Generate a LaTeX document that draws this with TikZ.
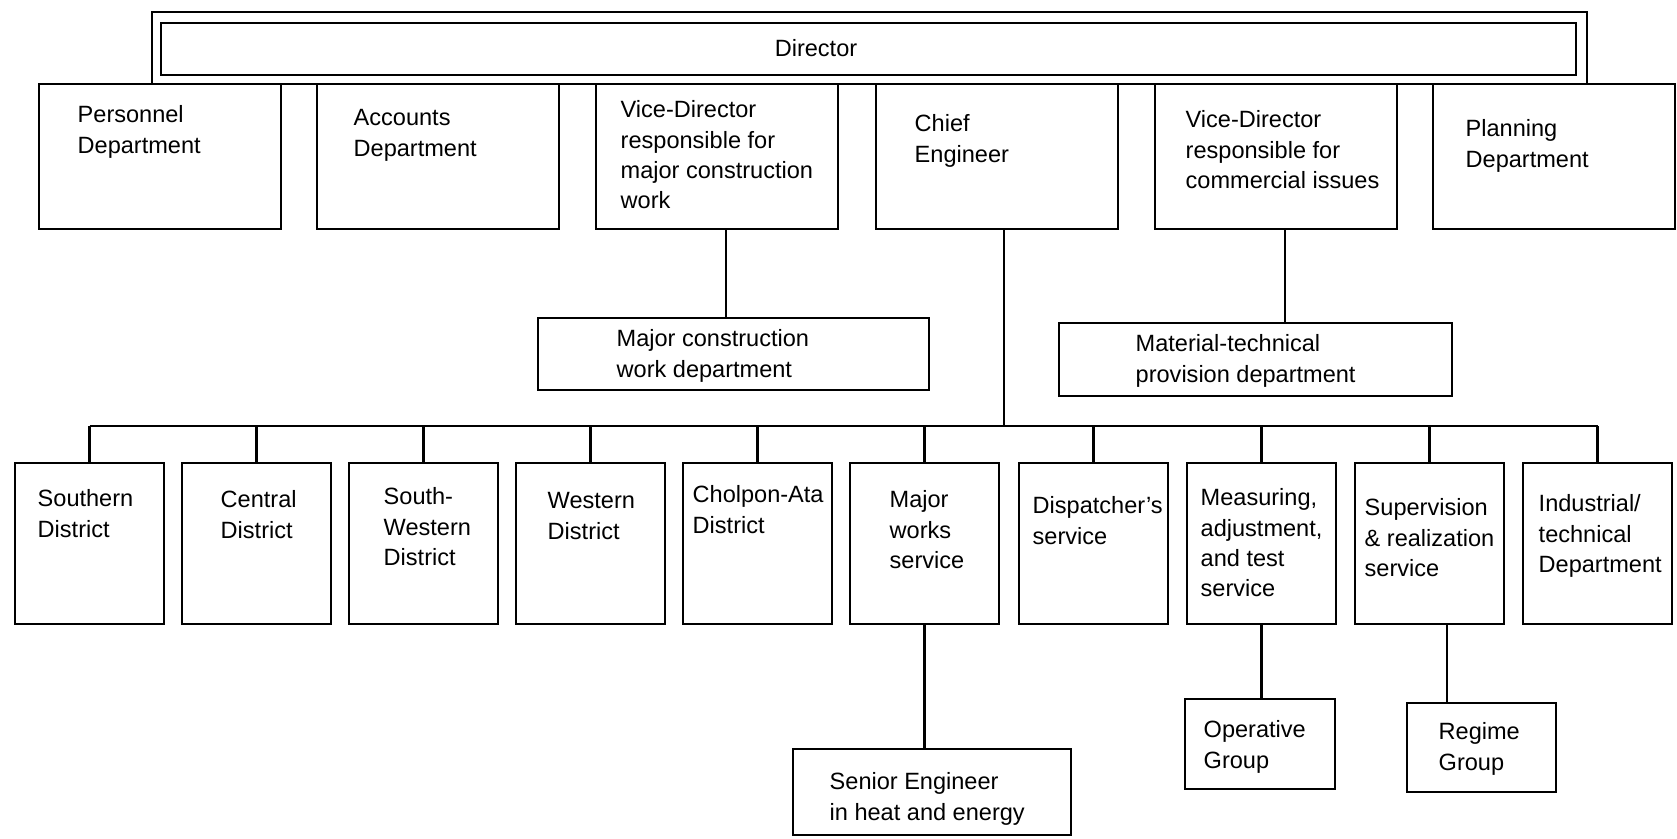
\documentclass[tikz,border=0pt]{standalone}
\usepackage{fontspec}
\setmainfont{Liberation Sans}
\usetikzlibrary{positioning}

\tikzset{
  box/.style 2 args={draw, line width=0.8pt, inner sep=0pt, minimum width=#1, minimum height=#2},
  lbl/.style={anchor=north west, align=left, inner sep=0pt, font=\fontsize{6.7}{8.6}\selectfont},
  link/.style={line width=0.6pt}
}

\begin{document}
\begin{tikzpicture}[x=0.1mm, y=-0.1mm]
  \useasboundingbox (0,0) rectangle (1677,838);

  % ── Director (double frame) ──
  \node[box={143.5mm}{7.2mm}] (dirframe) at (869.5,48) {};
  \node[box={141.5mm}{5.2mm}] (dir) at (868.5,49) {};
  \node[font=\fontsize{6.7}{8.6}\selectfont] (dirt) at (816,48) {Director};

  % ── Top row, hanging under the director frame ──
  \foreach \n/\x/\tx/\ty/\txt in
      {pd/160/77/105/{Personnel\\Department},
       ad/438/353/109/{Accounts\\Department},
       vda/717/620/100/{Vice-Director\\responsible for\\major construction\\work},
       ce/997/914/114/{Chief\\Engineer},
       vdb/1276/1185/110/{Vice-Director\\responsible for\\commercial issues},
       pl/1554/1465/119/{Planning\\Department}} {
    \node[box={24.2mm}{14.5mm}] (\n) at (\x,156.5) {};
    \node[lbl] (\n-t) at (\tx,\ty) {\txt};
  }

  % ── Departments under the vice-directors ──
  \node[box={39.1mm}{7.2mm}] (mcw) at (733.5,354) {};
  \node[lbl] (mcw-t) at (616,329) {Major construction\\work department};
  \node[box={39.3mm}{7.3mm}] (mtp) at (1255.5,359.5) {};
  \node[lbl] (mtp-t) at (1135,334) {Material-technical\\provision department};
  \draw[link] ([xshift=0.9mm]vda.south) -- ([xshift=0.9mm]vda.south |- mcw.north);
  \draw[link] ([xshift=0.9mm]vdb.south) -- ([xshift=0.9mm]vdb.south |- mtp.north);

  % ── Bus under the chief engineer ──
  \coordinate (bus) at (0,426);
  \draw[link] ([xshift=0.7mm]ce.south) -- ([xshift=0.7mm]ce.south |- bus);

  % ── Bottom row of districts and services ──
  \foreach \n/\x/\tx/\ty/\txt in
      {sd/89.5/37/489/{Southern\\District},
       cd/256.5/220/490/{Central\\District},
       swd/423.5/383/487/{South-\\Western\\District},
       wd/590.5/547/492/{Western\\District},
       cad/757.5/692/485/{Cholpon-Ata\\District},
       mws/924.5/889/490/{Major\\works\\service},
       dsp/1093.5/1032/496/{Dispatcher's\\service},
       mat/1261.5/1200/488/{Measuring,\\adjustment,\\and test\\service},
       sup/1429.5/1364/498/{Supervision\\\& realization\\service},
       itd/1597.5/1538/494/{Industrial/\\technical\\Department}} {
    \node[box={14.9mm}{16.1mm}] (\n) at (\x,543.5) {};
    \node[lbl] (\n-t) at (\tx,\ty) {\txt};
    \draw[link] (\n.north) -- (\n.north |- bus);
  }
  \draw[link] (sd.north |- bus) -- (itd.north |- bus);

  % ── Groups below the services ──
  \node[box={27.8mm}{8.6mm}] (seh) at (932,792) {};
  \node[lbl] (seh-t) at (829,772) {Senior Engineer\\in heat and energy};
  \node[box={15.0mm}{9.0mm}] (og) at (1260,744) {};
  \node[lbl] (og-t) at (1203,720) {Operative\\Group};
  \node[box={14.9mm}{8.9mm}] (rg) at (1481.5,747.5) {};
  \node[lbl] (rg-t) at (1438,722) {Regime\\Group};
  \draw[link] (mws.south) -- (mws.south |- seh.north);
  \draw[link] (mat.south) -- (mat.south |- og.north);
  \draw[link] ([xshift=1.75mm]sup.south) -- ([xshift=1.75mm]sup.south |- rg.north);
\end{tikzpicture}
\end{document}
